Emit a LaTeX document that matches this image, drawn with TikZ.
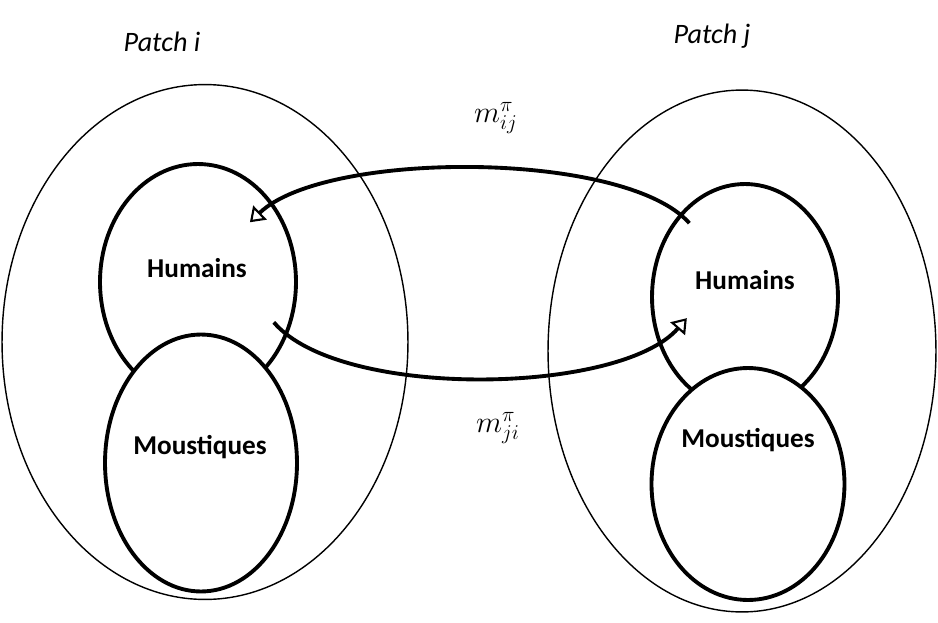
\documentclass[tikz,border=0pt]{standalone}
\usepackage{fontspec}
\setsansfont{Carlito}
\usetikzlibrary{arrows.meta,calc,shapes.geometric}

\begin{document}
\begin{tikzpicture}[
    x=0.02cm, y=-0.02cm,
    font=\sffamily,
    patch/.style={
      draw, ellipse, line width=0.8pt,
      inner sep=0pt,
    },
    pop/.style={
      draw, ellipse, line width=2.2pt,
      fill=white, inner sep=0pt,
    },
    popname/.style={font=\sffamily\bfseries\fontsize{15.5}{18}\selectfont},
    title/.style={font=\sffamily\itshape\fontsize{16}{19}\selectfont},
    rate/.style={font=\fontsize{17}{20}\selectfont},
    move/.style={
      line width=2.2pt,
      -{Triangle[open,length=8pt,width=11pt,line width=1.2pt]},
    },
  ]
    \useasboundingbox (0,0) rectangle (938,623);

    % the two patches
    \node[patch,minimum width=8.12cm,minimum height=10.3cm] at (205,342) (patchI) {};
    \node[patch,minimum width=7.76cm,minimum height=10.44cm] at (742,351) (patchJ) {};
    \node[title] at (162,42) (titleI) {Patch i};
    \node[title] at (712,36) (titleJ) {Patch j};

    % humans first, mosquitoes on top of them
    \node[pop,minimum width=3.92cm,minimum height=4.72cm] at (198,282) (humI) {};
    \node[pop,minimum width=3.84cm,minimum height=5.14cm] at (201,463) (mosI) {};
    \node[pop,minimum width=3.72cm,minimum height=4.52cm] at (745,297) (humJ) {};
    \node[pop,minimum width=3.86cm,minimum height=4.64cm] at (748,484) (mosJ) {};

    \node[popname] at (197,268) {Humains};
    \node[popname] at (200,447) {Moustiques};
    \node[popname] at (745,280) {Humains};
    \node[popname] at (748,440) {Moustiques};

    % movements between the patches
    \draw[move] ($(humJ.center)!0.87!(humJ.127)$)
      .. controls (625,150) and (325,150) .. ($(humI.center)!0.72!(humI.49)$);
    \draw[move] ($(humI.center)!0.83!(humI.-28)$)
      .. controls (340,400) and (620,395) .. ($(humJ.center)!0.64!(humJ.200)$);

    \node[rate] at (496,118) (mij) {$m_{ij}^{\pi}$};
    \node[rate] at (498,428) (mji) {$m_{ji}^{\pi}$};
  \end{tikzpicture}
\end{document}
